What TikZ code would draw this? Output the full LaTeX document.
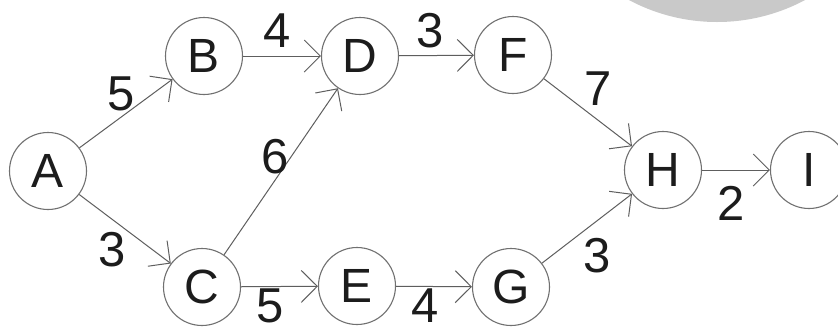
\documentclass[tikz,border=0pt]{standalone}
\usepackage{fontspec}
\setmainfont{Liberation Sans}
\usetikzlibrary{arrows.meta}
\definecolor{circ}{HTML}{707070}
\definecolor{lin}{HTML}{5E5E5E}
\definecolor{txt}{HTML}{1C1C1C}
\definecolor{wm}{HTML}{C9C9C9}
\begin{document}
\begin{tikzpicture}[x=1pt,y=-1pt,
  vtx/.style={circle,draw=circ,line width=1.1pt,minimum size=77pt,inner sep=0pt,
    text=txt,font=\fontsize{48}{48}\selectfont},
  wt/.style={text=txt,inner sep=0pt,font=\fontsize{49}{49}\selectfont},
  arc/.style={draw=lin,line width=1pt,-{Straight Barb[length=16pt,width=32pt,line width=1pt]}}]
\clip (0,0) rectangle (838,333);
\fill[white] (0,0) rectangle (838,333);
\fill[wm] (717,-165) circle (187);
\node[vtx] (A) at (48,171) {A};
\node[vtx] (B) at (204,56) {B};
\node[vtx] (D) at (360,56) {D};
\node[vtx] (F) at (513,55) {F};
\node[vtx] (C) at (202,287) {C};
\node[vtx] (E) at (357,286) {E};
\node[vtx] (G) at (511,287) {G};
\node[vtx] (H) at (663,170) {H};
\node[vtx] (I) at (809,170) {I};
\draw[arc] (A) -- (B);
\draw[arc] (A) -- (C);
\draw[arc] (B) -- (D);
\draw[arc] (C) -- (D);
\draw[arc] (D) -- (F);
\draw[arc] (C) -- (E);
\draw[arc] (E) -- (G);
\draw[arc] (F) -- (H);
\draw[arc] (G) -- (H);
\draw[arc] (H) -- (I);
\node[wt] (wAB) at (121,94) {5};
\node[wt] (wBD) at (277,31) {4};
\node[wt] (wDF) at (430,31) {3};
\node[wt] (wCD) at (275,157) {6};
\node[wt] (wAC) at (112,250) {3};
\node[wt] (wCE) at (270,306) {5};
\node[wt] (wEG) at (425,306) {4};
\node[wt] (wFH) at (598,89) {7};
\node[wt] (wGH) at (597,256) {3};
\node[wt] (wHI) at (731,203) {2};
\end{tikzpicture}
\end{document}
